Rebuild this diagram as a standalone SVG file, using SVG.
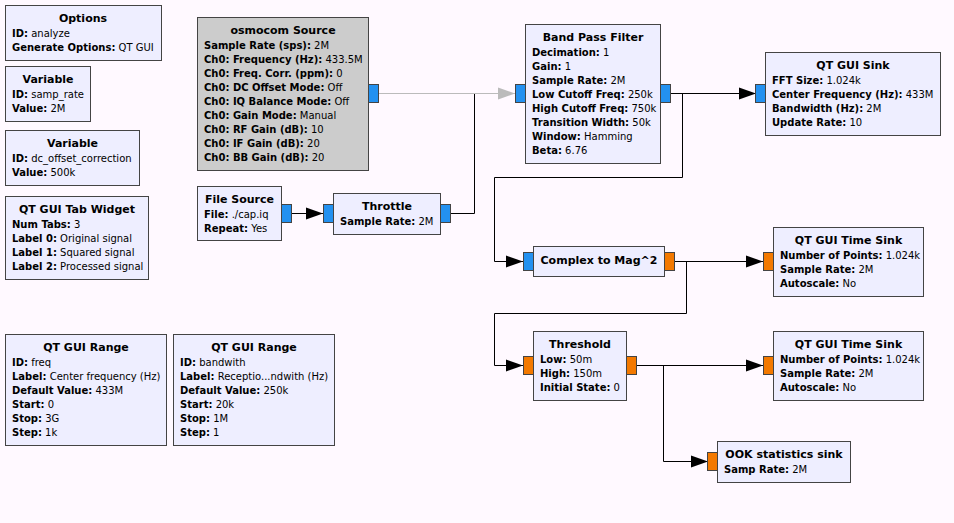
<svg xmlns="http://www.w3.org/2000/svg" width="954" height="523" viewBox="0 0 954 523">
<style>
text{font-family:"DejaVu Sans","Noto Sans",sans-serif;font-size:10px;fill:#000}
.t{font-weight:bold;text-anchor:middle;font-size:11px}
.k{font-weight:bold}
.blk{fill:#EEEEFF;stroke:#444444;stroke-width:1}
.dis{fill:#CCCCCC;stroke:#444444;stroke-width:1}
.pc{fill:#2391F0;stroke:#444444;stroke-width:1}
.pf{fill:#F37900;stroke:#444444;stroke-width:1}
.c{fill:none;stroke:#000;stroke-width:1}
.cg{fill:none;stroke:#BBBBBB;stroke-width:1}
</style>
<defs>
<marker id="ah" markerUnits="userSpaceOnUse" markerWidth="17" markerHeight="13" refX="17" refY="6.5" orient="auto"><path d="M0,0.5 L17,6.5 L0,12.5 z" fill="#000"/></marker>
<marker id="ahg" markerUnits="userSpaceOnUse" markerWidth="17" markerHeight="13" refX="17" refY="6.5" orient="auto"><path d="M0,0.5 L17,6.5 L0,12.5 z" fill="#BBBBBB"/></marker>
</defs>
<rect width="954" height="523" fill="#FFF9FF"/>

<g id="connectors">
<path class="c" d="M450,213.5 H474.5 V93.5"/>
<path class="cg" d="M378,93.5 H515" marker-end="url(#ahg)"/>
<path class="c" d="M292,213.5 H323" marker-end="url(#ah)"/>
<path class="c" d="M671,93.5 H756" marker-end="url(#ah)"/>
<path class="c" d="M671,93.5 H682.5 V177.5 H494.5 V261.5 H523" marker-end="url(#ah)"/>
<path class="c" d="M674,261.5 H763" marker-end="url(#ah)"/>
<path class="c" d="M674,261.5 H686.5 V313.5 H494.5 V365.5 H523" marker-end="url(#ah)"/>
<path class="c" d="M637,365.5 H763" marker-end="url(#ah)"/>
<path class="c" d="M637,365.5 H663.5 V461.5 H708" marker-end="url(#ah)"/>
</g>

<g id="options">
<rect class="blk" x="5.5" y="5.5" width="156" height="55"/>
<text class="t" x="83" y="22">Options</text>
<text x="12" y="37"><tspan class="k">ID:</tspan> analyze</text>
<text x="12" y="51"><tspan class="k">Generate Options:</tspan> QT GUI</text>
</g>

<g id="variable_samp_rate">
<rect class="blk" x="5.5" y="66.5" width="85" height="55"/>
<text class="t" x="48" y="83">Variable</text>
<text x="12" y="98"><tspan class="k">ID:</tspan> samp_rate</text>
<text x="12" y="112"><tspan class="k">Value:</tspan> 2M</text>
</g>

<g id="variable_dc_offset">
<rect class="blk" x="5.5" y="130.5" width="134" height="55"/>
<text class="t" x="72.5" y="147">Variable</text>
<text x="12" y="162"><tspan class="k">ID:</tspan> dc_offset_correction</text>
<text x="12" y="176"><tspan class="k">Value:</tspan> 500k</text>
</g>

<g id="tab_widget">
<rect class="blk" x="5.5" y="196.5" width="143" height="83"/>
<text class="t" x="77" y="213">QT GUI Tab Widget</text>
<text x="12" y="228"><tspan class="k">Num Tabs:</tspan> 3</text>
<text x="12" y="242"><tspan class="k">Label 0:</tspan> Original signal</text>
<text x="12" y="256"><tspan class="k">Label 1:</tspan> Squared signal</text>
<text x="12" y="270"><tspan class="k">Label 2:</tspan> Processed signal</text>
</g>

<g id="range_freq">
<rect class="blk" x="5.5" y="334.5" width="161" height="111"/>
<text class="t" x="86" y="351">QT GUI Range</text>
<text x="12" y="366"><tspan class="k">ID:</tspan> freq</text>
<text x="12" y="380"><tspan class="k">Label:</tspan> Center frequency (Hz)</text>
<text x="12" y="394"><tspan class="k">Default Value:</tspan> 433M</text>
<text x="12" y="408"><tspan class="k">Start:</tspan> 0</text>
<text x="12" y="422"><tspan class="k">Stop:</tspan> 3G</text>
<text x="12" y="436"><tspan class="k">Step:</tspan> 1k</text>
</g>

<g id="range_bandwidth">
<rect class="blk" x="173.5" y="334.5" width="161" height="111"/>
<text class="t" x="254" y="351">QT GUI Range</text>
<text x="180" y="366"><tspan class="k">ID:</tspan> bandwith</text>
<text x="180" y="380"><tspan class="k">Label:</tspan> Receptio...ndwith (Hz)</text>
<text x="180" y="394"><tspan class="k">Default Value:</tspan> 250k</text>
<text x="180" y="408"><tspan class="k">Start:</tspan> 20k</text>
<text x="180" y="422"><tspan class="k">Stop:</tspan> 1M</text>
<text x="180" y="436"><tspan class="k">Step:</tspan> 1</text>
</g>

<g id="osmocom_source">
<rect class="dis" x="197.5" y="17.5" width="171" height="153"/>
<rect class="pc" x="368.5" y="84.5" width="10" height="18"/>
<text class="t" x="283" y="34">osmocom Source</text>
<text x="204" y="49"><tspan class="k">Sample Rate (sps):</tspan> 2M</text>
<text x="204" y="63"><tspan class="k">Ch0: Frequency (Hz):</tspan> 433.5M</text>
<text x="204" y="77"><tspan class="k">Ch0: Freq. Corr. (ppm):</tspan> 0</text>
<text x="204" y="91"><tspan class="k">Ch0: DC Offset Mode:</tspan> Off</text>
<text x="204" y="105"><tspan class="k">Ch0: IQ Balance Mode:</tspan> Off</text>
<text x="204" y="119"><tspan class="k">Ch0: Gain Mode:</tspan> Manual</text>
<text x="204" y="133"><tspan class="k">Ch0: RF Gain (dB):</tspan> 10</text>
<text x="204" y="147"><tspan class="k">Ch0: IF Gain (dB):</tspan> 20</text>
<text x="204" y="161"><tspan class="k">Ch0: BB Gain (dB):</tspan> 20</text>
</g>

<g id="file_source">
<rect class="blk" x="197.5" y="186.5" width="84" height="54"/>
<rect class="pc" x="281.5" y="204.5" width="10" height="18"/>
<text class="t" x="239.5" y="203">File Source</text>
<text x="204" y="218"><tspan class="k">File:</tspan> ./cap.iq</text>
<text x="204" y="232"><tspan class="k">Repeat:</tspan> Yes</text>
</g>

<g id="throttle">
<rect class="blk" x="333.5" y="193.5" width="107" height="41"/>
<rect class="pc" x="323.5" y="204.5" width="10" height="18"/>
<rect class="pc" x="440.5" y="204.5" width="10" height="18"/>
<text class="t" x="387" y="210">Throttle</text>
<text x="340" y="225"><tspan class="k">Sample Rate:</tspan> 2M</text>
</g>

<g id="band_pass_filter">
<rect class="blk" x="525.5" y="24.5" width="135" height="139"/>
<rect class="pc" x="515.5" y="84.5" width="10" height="18"/>
<rect class="pc" x="660.5" y="84.5" width="10" height="18"/>
<text class="t" x="593" y="41">Band Pass Filter</text>
<text x="532" y="56"><tspan class="k">Decimation:</tspan> 1</text>
<text x="532" y="70"><tspan class="k">Gain:</tspan> 1</text>
<text x="532" y="84"><tspan class="k">Sample Rate:</tspan> 2M</text>
<text x="532" y="98"><tspan class="k">Low Cutoff Freq:</tspan> 250k</text>
<text x="532" y="112"><tspan class="k">High Cutoff Freq:</tspan> 750k</text>
<text x="532" y="126"><tspan class="k">Transition Width:</tspan> 50k</text>
<text x="532" y="140"><tspan class="k">Window:</tspan> Hamming</text>
<text x="532" y="154"><tspan class="k">Beta:</tspan> 6.76</text>
</g>

<g id="qt_gui_sink">
<rect class="blk" x="765.5" y="52.5" width="175" height="83"/>
<rect class="pc" x="755.5" y="84.5" width="10" height="18"/>
<text class="t" x="853" y="69">QT GUI Sink</text>
<text x="772" y="84"><tspan class="k">FFT Size:</tspan> 1.024k</text>
<text x="772" y="98"><tspan class="k">Center Frequency (Hz):</tspan> 433M</text>
<text x="772" y="112"><tspan class="k">Bandwidth (Hz):</tspan> 2M</text>
<text x="772" y="126"><tspan class="k">Update Rate:</tspan> 10</text>
</g>

<g id="complex_to_mag_squared">
<rect class="blk" x="533.5" y="246.5" width="131" height="30"/>
<rect class="pc" x="523.5" y="252.5" width="10" height="18"/>
<rect class="pf" x="664.5" y="252.5" width="10" height="18"/>
<text class="t" x="599" y="264">Complex to Mag^2</text>
</g>

<g id="time_sink_1">
<rect class="blk" x="773.5" y="227.5" width="150" height="69"/>
<rect class="pf" x="763.5" y="252.5" width="10" height="18"/>
<text class="t" x="848.5" y="244">QT GUI Time Sink</text>
<text x="780" y="259"><tspan class="k">Number of Points:</tspan> 1.024k</text>
<text x="780" y="273"><tspan class="k">Sample Rate:</tspan> 2M</text>
<text x="780" y="287"><tspan class="k">Autoscale:</tspan> No</text>
</g>

<g id="threshold">
<rect class="blk" x="533.5" y="331.5" width="93" height="69"/>
<rect class="pf" x="523.5" y="356.5" width="10" height="18"/>
<rect class="pf" x="626.5" y="356.5" width="10" height="18"/>
<text class="t" x="580" y="348">Threshold</text>
<text x="540" y="363"><tspan class="k">Low:</tspan> 50m</text>
<text x="540" y="377"><tspan class="k">High:</tspan> 150m</text>
<text x="540" y="391"><tspan class="k">Initial State:</tspan> 0</text>
</g>

<g id="time_sink_2">
<rect class="blk" x="773.5" y="331.5" width="150" height="69"/>
<rect class="pf" x="763.5" y="356.5" width="10" height="18"/>
<text class="t" x="848.5" y="348">QT GUI Time Sink</text>
<text x="780" y="363"><tspan class="k">Number of Points:</tspan> 1.024k</text>
<text x="780" y="377"><tspan class="k">Sample Rate:</tspan> 2M</text>
<text x="780" y="391"><tspan class="k">Autoscale:</tspan> No</text>
</g>

<g id="ook_statistics_sink">
<rect class="blk" x="717.5" y="441.5" width="133" height="41"/>
<rect class="pf" x="707.5" y="452.5" width="10" height="18"/>
<text class="t" x="784" y="458">OOK statistics sink</text>
<text x="724" y="473"><tspan class="k">Samp Rate:</tspan> 2M</text>
</g>
</svg>
